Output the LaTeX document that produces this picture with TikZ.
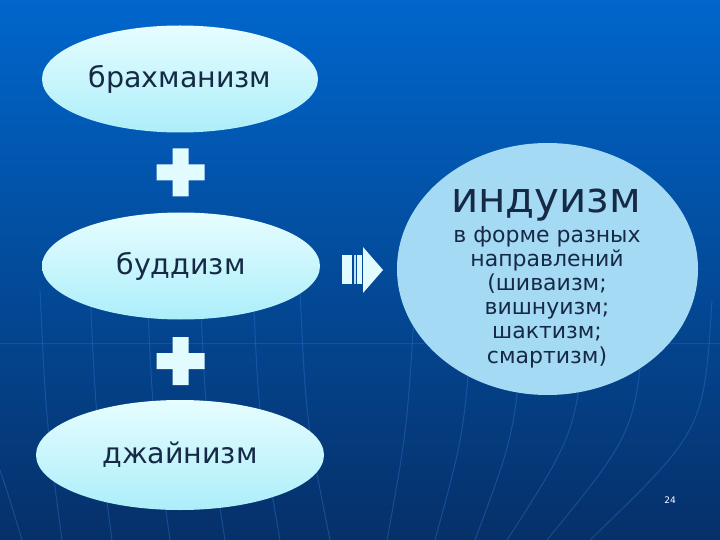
\documentclass[tikz,border=0pt]{standalone}
\usepackage{fontspec}
\setmainfont{DejaVu Sans}
\usetikzlibrary{shapes.geometric}
\definecolor{bgtop}{RGB}{0,102,204}
\definecolor{bgmid}{RGB}{8,80,170}
\definecolor{bgbot}{RGB}{6,48,105}
\definecolor{elltop}{RGB}{230,253,255}
\definecolor{ellbot}{RGB}{172,238,250}
\definecolor{circfill}{RGB}{165,218,245}
\definecolor{txtcol}{RGB}{22,42,70}
\definecolor{plusfill}{RGB}{226,251,255}
\definecolor{gridcol}{RGB}{45,118,210}
\begin{document}
\begin{tikzpicture}[x=1pt,y=-1pt,
  oval/.style={ellipse, inner sep=0pt, top color=elltop, bottom color=ellbot,
    text=txtcol, font=\fontsize{28.5}{32}\selectfont},
  bigtitle/.style={anchor=base, text=txtcol, inner sep=0pt, font=\fontsize{42}{46}\selectfont},
  bodyline/.style={anchor=base, text=txtcol, inner sep=0pt, font=\fontsize{22}{26}\selectfont},
  gridline/.style={draw=gridcol, line width=1pt, opacity=0.4},
  plusshape/.style={fill=plusfill},
  arrowpart/.style={fill=plusfill}]
\useasboundingbox (0,0) rectangle (720,540);
% background
\shade[top color=bgtop, middle color=bgmid, bottom color=bgbot] (0,0) rectangle (720,540);
% faint background lines
\draw[gridline, opacity=0.3] (0,343) -- (720,343);
\foreach \xa/\xb in {40/62, 90/112, 147/170, 200/225, 253/280, 300/330}
  \draw[gridline] (\xa,290) .. controls (\xa+6,420) .. (\xb,540);
\foreach \xa/\xb in {415/387, 473/435, 524/475, 586/507, 645/547, 712/590}
  \draw[gridline] (\xa,300) .. controls (\xa-8,430) .. (\xb,540);
\draw[gridline] (0,470) .. controls (10,500) .. (22,540);
% ovals
\node[oval, minimum width=276pt, minimum height=107pt] (brah) at (180,79) {брахманизм};
\node[oval, minimum width=278pt, minimum height=107pt] (budd) at (181,266) {буддизм};
\node[oval, minimum width=288pt, minimum height=110pt] (jain) at (180,455) {джайнизм};
% plus signs
\foreach \cx/\cy in {180.5/172.5, 180.5/361}
  \fill[plusshape, shift={(\cx,\cy)}] (-24,-8) -- (-8,-8) -- (-8,-24) -- (8,-24) -- (8,-8) -- (24,-8)
     -- (24,8) -- (8,8) -- (8,24) -- (-8,24) -- (-8,8) -- (-24,8) -- cycle;
% striped arrow
\fill[arrowpart] (342,255) rectangle (352,284);
\fill[arrowpart, opacity=0.85] (354,255) rectangle (356,284);
\fill[arrowpart] (357,255) rectangle (362,284);
\fill[arrowpart] (363,247) -- (383,270) -- (363,293) -- cycle;
% big circle
\node[ellipse, fill=circfill, minimum width=301pt, minimum height=252pt, inner sep=0pt] (hind) at (547.5,269) {};
\node[bigtitle] (title) at (546,212) {индуизм};
\node[bodyline] (l1) at (547,242) {в форме разных};
\node[bodyline] (l2) at (547,266.2) {направлений};
\node[bodyline] (l3) at (547,290.4) {(шиваизм;};
\node[bodyline] (l4) at (547,314.6) {вишнуизм;};
\node[bodyline] (l5) at (547,338.8) {шактизм;};
\node[bodyline] (l6) at (547,363) {смартизм)};
% page number
\node[anchor=base, text=white, inner sep=0pt, font=\fontsize{9}{11}\selectfont] (pg) at (670,503) {24};
\end{tikzpicture}
\end{document}
